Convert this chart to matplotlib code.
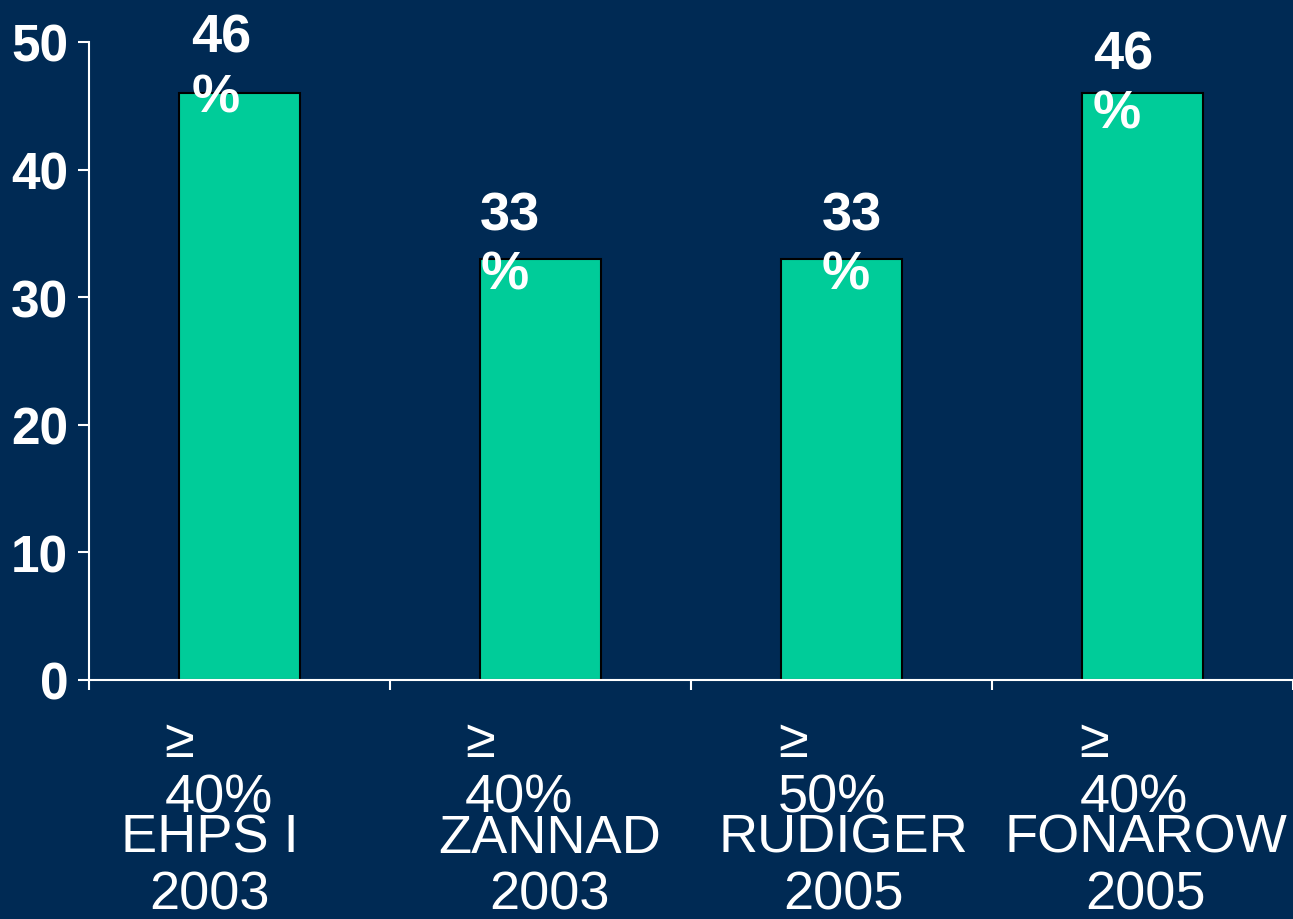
import matplotlib
matplotlib.use("Agg")
import matplotlib.pyplot as plt

# Daten
studies = ["EHPS I", "ZANNAD", "RUDIGER", "FONAROW"]
years = ["2003", "2003", "2005", "2005"]
thresholds = ["40%", "40%", "50%", "40%"]
values = [46, 33, 33, 46]
value_labels = ["46\n%", "33\n%", "33\n%", "46\n%"]

# Positionen der Beschriftungen (Datenkoordinaten)
value_dx = [-0.16, -0.20, -0.065, -0.165]
value_y = [52.3, 38.4, 38.4, 51.0]
thr_dx = [-0.25, -0.25, -0.21, -0.21]
name_x = [-0.10, 1.03, 2.005, 3.01]

bg = "#002a54"
bar_color = "#00cc99"
plt.rcParams["font.family"] = ["Liberation Sans", "DejaVu Sans"]

fig = plt.figure(figsize=(12.93, 9.2), dpi=100, facecolor=bg)
ax = fig.add_axes([89 / 1293, 239 / 920, 1 - 89 / 1293, 638 / 920])
ax.set_facecolor(bg)

x = list(range(len(values)))
ax.bar(x, values, width=0.4, color=bar_color, edgecolor="black", linewidth=1.5)

ax.set_xlim(-0.5, 3.5)
ax.set_ylim(0, 50)
ax.set_yticks([0, 10, 20, 30, 40, 50])
ax.set_xticks([-0.5, 0.5, 1.5, 2.5, 3.5])
ax.set_xticklabels([])

for s in ["top", "right"]:
    ax.spines[s].set_visible(False)
for s in ["left", "bottom"]:
    ax.spines[s].set_color("white")
    ax.spines[s].set_linewidth(1.5)

ax.tick_params(axis="y", colors="white", length=8, width=1.5, pad=7,
               labelsize=37)
ax.tick_params(axis="x", colors="white", length=7, width=1.5)
for lbl in ax.get_yticklabels():
    lbl.set_fontweight("bold")

# Wertebeschriftung
for i, v in enumerate(values):
    ax.text(i + value_dx[i], value_y[i], value_labels[i], color="white",
            fontsize=39, fontweight="bold", ha="left", va="top",
            linespacing=1.25, clip_on=False)

# Schwellenwerte und Studiennamen
for i in x:
    ax.text(i + thr_dx[i], -2.9, "\u2265\n" + thresholds[i], color="white",
            fontsize=39, ha="left", va="top", linespacing=1.15, clip_on=False)
    ax.text(name_x[i], -10.4, studies[i] + "\n" + years[i], color="white",
            fontsize=39, ha="center", va="top", linespacing=1.18,
            clip_on=False)

fig.savefig("out.png", dpi=100, facecolor=bg)
